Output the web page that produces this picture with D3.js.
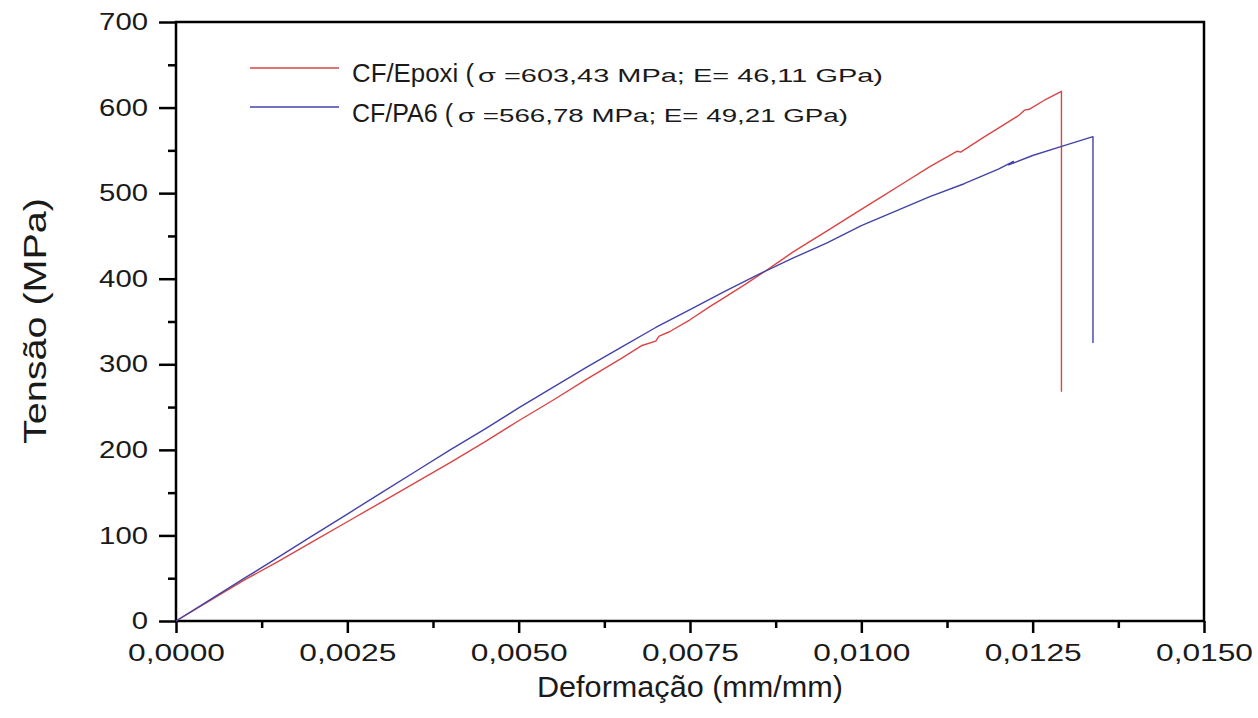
<!DOCTYPE html>
<html>
<head>
<meta charset="utf-8">
<script src="https://cdn.jsdelivr.net/npm/d3@7"></script>
<style>
  html, body { margin: 0; padding: 0; background: #fff; }
  svg { display: block; font-family: "Liberation Sans", Arial, sans-serif; }
</style>
</head>
<body>
<svg id="chart" width="1258" height="718"></svg>
<script>
// strain (mm/mm) and stress (MPa)
var epoxiStrain = [0, 0.0005, 0.001, 0.0015, 0.002, 0.0025, 0.003, 0.0035, 0.004, 0.0045,
  0.005, 0.0055, 0.006, 0.0065, 0.0068, 0.0070, 0.00705, 0.0072, 0.0075, 0.0078,
  0.0080, 0.0083, 0.0086, 0.0088, 0.0090, 0.0095, 0.0100, 0.0103, 0.0106, 0.0110,
  0.0114, 0.01145, 0.0118, 0.0121, 0.0123, 0.01238, 0.01245, 0.0127, 0.01292, 0.01292];
var epoxiStress = [0, 24, 48, 70, 93, 116, 139, 162, 185, 209,
  234, 258, 283, 307, 322, 327, 333, 338, 352, 368,
  378, 393, 409, 420, 431, 456, 481, 496, 511, 531,
  549, 548, 566, 581, 591, 597, 598, 610, 619, 268];

var pa6Strain = [0, 0.0005, 0.001, 0.0015, 0.002, 0.0025, 0.003, 0.0035, 0.004, 0.0045,
  0.005, 0.0055, 0.006, 0.0065, 0.007, 0.0075, 0.008, 0.0085, 0.009, 0.0095,
  0.010, 0.0105, 0.011, 0.0115, 0.0120, 0.01222, 0.01215, 0.0125, 0.0129, 0.01338, 0.01338];
var pa6Stress = [0, 25, 50, 75, 100, 125, 150, 175, 200, 224,
  249, 273, 297, 320, 343, 364, 385, 405, 424, 442,
  462, 479, 496, 511, 528, 537, 533, 544, 554, 566, 325];

var xTicks = [0, 0.0025, 0.005, 0.0075, 0.01, 0.0125, 0.015];
var yTicks = [0, 100, 200, 300, 400, 500, 600, 700];

var seriesNames = ['CF/Epoxi (', 'CF/PA6 ('];
var seriesNotes = ['\u03c3 =603,43 MPa; E= 46,11 GPa)', '\u03c3 =566,78 MPa; E= 49,21 GPa)'];
var seriesColors = ['#d94545', '#4343a8'];

(function () {
  'use strict';

  var svg = d3.select('#chart');
  var mLeft = 176, mRight = 1204, mTop = 22, mBottom = 621;

  var x = d3.scaleLinear().domain([0, 0.015]).range([mLeft, mRight]);
  var y = d3.scaleLinear().domain([0, 700]).range([mBottom, mTop]);

  function fmtX(d) { return d3.format('.4f')(d).replace('.', ','); }

  // frame
  svg.append('rect')
    .attr('x', mLeft).attr('y', mTop)
    .attr('width', mRight - mLeft).attr('height', mBottom - mTop)
    .attr('fill', 'none').attr('stroke', '#000').attr('stroke-width', 2.5);

  // x axis
  var xMinor = d3.range(0, 6).map(function (i) { return 0.00125 + i * 0.0025; });
  var gx = svg.append('g').attr('transform', 'translate(0,' + mBottom + ')');
  gx.call(d3.axisBottom(x).tickValues(xTicks).tickFormat(fmtX).tickSize(12).tickPadding(11));
  gx.append('g').call(d3.axisBottom(x).tickValues(xMinor).tickFormat('').tickSize(7));

  // y axis
  var yMinor = d3.range(0, 7).map(function (i) { return 50 + i * 100; });
  var gy = svg.append('g').attr('transform', 'translate(' + mLeft + ',0)');
  gy.call(d3.axisLeft(y).tickValues(yTicks).tickSize(17).tickPadding(11));
  gy.append('g').call(d3.axisLeft(y).tickValues(yMinor).tickFormat('').tickSize(8));

  svg.selectAll('.domain').remove();
  svg.selectAll('.tick line').attr('stroke', '#000').attr('stroke-width', 2.5);
  svg.selectAll('.tick text')
    .attr('fill', '#1a1a1a')
    .style('font-size', '24px')
    .style('font-family', '"Liberation Sans", Arial, sans-serif')
    .attr('lengthAdjust', 'spacingAndGlyphs')
    .attr('textLength', function () {
      var s = this.textContent;
      return s.length === 6 ? 97 : s.length * 16.3;
    });

  // axis titles
  svg.append('text')
    .attr('x', (mLeft + mRight) / 2).attr('y', 697)
    .attr('text-anchor', 'middle')
    .attr('fill', '#1a1a1a')
    .style('font-size', '29px')
    .attr('lengthAdjust', 'spacingAndGlyphs').attr('textLength', 306)
    .text('Deformação (mm/mm)');

  svg.append('text')
    .attr('transform', 'translate(46,' + 321 + ') rotate(-90)')
    .attr('text-anchor', 'middle')
    .attr('fill', '#1a1a1a')
    .style('font-size', '32px')
    .attr('lengthAdjust', 'spacingAndGlyphs').attr('textLength', 246)
    .text('Tensão (MPa)');

  // curves
  var line = d3.line()
    .x(function (d) { return x(d[0]); })
    .y(function (d) { return y(d[1]); });

  var epoxi = epoxiStrain.map(function (s, i) { return [s, epoxiStress[i]]; });
  var pa6 = pa6Strain.map(function (s, i) { return [s, pa6Stress[i]]; });

  svg.append('path').datum(epoxi)
    .attr('d', line).attr('fill', 'none')
    .attr('stroke', seriesColors[0]).attr('stroke-width', 1.4)
    .attr('stroke-linejoin', 'round');
  svg.append('path').datum(pa6)
    .attr('d', line).attr('fill', 'none')
    .attr('stroke', seriesColors[1]).attr('stroke-width', 1.4)
    .attr('stroke-linejoin', 'round');

  // legend
  var nameLen = [122, 101];
  var noteStart = [478, 458];
  var noteLen = [405, 390];
  var legend = svg.append('g');
  seriesNames.forEach(function (name, i) {
    var ly = i === 0 ? 68 : 107;
    var by = i === 0 ? 82 : 122;
    legend.append('line')
      .attr('x1', 250).attr('x2', 339).attr('y1', ly).attr('y2', ly)
      .attr('stroke', seriesColors[i]).attr('stroke-width', 1.4);
    legend.append('text')
      .attr('x', 352).attr('y', by)
      .attr('fill', '#1a1a1a')
      .style('font-size', '26px')
      .attr('lengthAdjust', 'spacingAndGlyphs').attr('textLength', nameLen[i])
      .text(name);
    legend.append('text')
      .attr('x', noteStart[i]).attr('y', by)
      .attr('fill', '#1a1a1a')
      .style('font-size', '18px')
      .attr('lengthAdjust', 'spacingAndGlyphs').attr('textLength', noteLen[i])
      .text(seriesNotes[i]);
  });
})();
</script>
</body>
</html>
